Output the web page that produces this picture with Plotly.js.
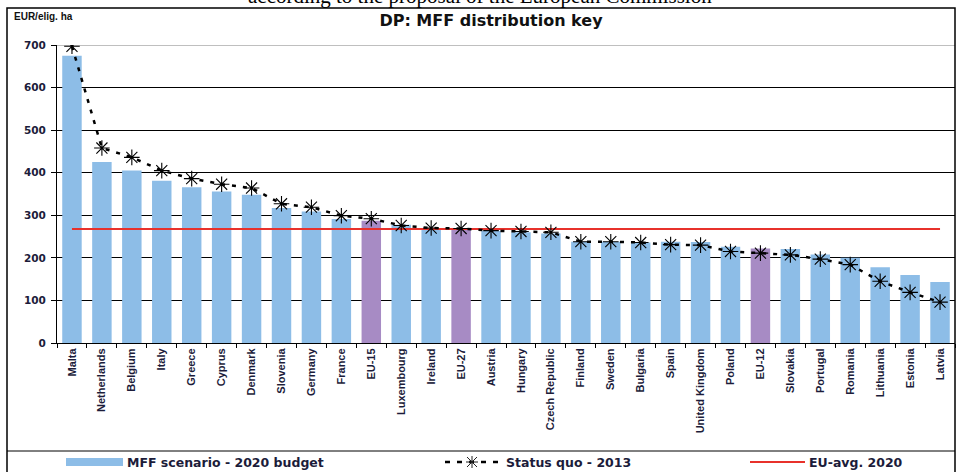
<!DOCTYPE html>
<html>
<head>
<meta charset="utf-8">
<script src="https://cdn.plot.ly/plotly-3.0.1.min.js"></script>
<style>html,body{margin:0;padding:0;background:#fff;}#chart{width:958px;height:472px;}</style>
</head>
<body>
<div id="chart"></div>
<script>
const categories = ["Malta","Netherlands","Belgium","Italy","Greece","Cyprus","Denmark","Slovenia","Germany","France","EU-15","Luxembourg","Ireland","EU-27","Austria","Hungary","Czech Republic","Finland","Sweden","Bulgaria","Spain","United Kingdom","Poland","EU-12","Slovakia","Portugal","Romania","Lithuania","Estonia","Latvia"];
const mffScenario2020 = [675,425,405,381,366,356,348,317,309,291,287,278,270,269,263,260,257,238,238,236,238,237,226,222,221,208,200,178,160,143];
const statusQuo2013 = [697,458,436,405,386,373,364,327,319,299,292,276,270,269,264,262,260,238,238,236,231,230,215,211,207,197,184,145,119,96];
const euAvg2020 = 268;
const aggregates = ["EU-15","EU-27","EU-12"];
const yTicks = [0,100,200,300,400,500,600,700];

const BLUE = "#8DBDE7", PURPLE = "#A78BC4", RED = "#E8312B", TXT = "#1c1c3a";
const W = 958, H = 472, L = 57, R = 3, T = 45, B = 129;
const pw = W - L - R, ph = H - T - B;
const px = x => (x - L) / pw;
const py = y => (H - B - y) / ph;

const traces = [
  {type: "bar", x: categories, y: mffScenario2020, name: "MFF scenario - 2020 budget",
   marker: {color: categories.map(c => aggregates.includes(c) ? PURPLE : BLUE)}, hoverinfo: "x+y"},
  {type: "scatter", mode: "lines", x: categories, y: categories.map(() => euAvg2020), name: "EU-avg. 2020",
   line: {color: RED, width: 2}},
  {type: "scatter", mode: "lines+markers", x: categories, y: statusQuo2013, name: "Status quo - 2013",
   line: {color: "#000", width: 2.5, dash: "4px,7px"},
   marker: {symbol: "asterisk-open", size: 13, color: "#000", line: {color: "#111", width: 1.1}}}
];

const boldD = {family: "DejaVu Sans", weight: "bold", color: TXT};
const layout = {
  width: W, height: H,
  margin: {l: L, r: R, t: T, b: B, pad: 0},
  paper_bgcolor: "#fff", plot_bgcolor: "#fff",
  showlegend: false,
  bargap: 0.35,
  title: {text: "DP: MFF distribution key", xref: "container", yref: "container", x: 491/W, xanchor: "center", y: 1 - 20/H, yanchor: "middle",
          font: {family: "DejaVu Sans", size: 16, weight: "bold", color: "#111"}},
  xaxis: {type: "category", range: [-0.5, categories.length - 0.5], tickangle: -90, ticks: "outside", tickson: "boundaries", ticklen: 4, tickcolor: "#000", tickwidth: 1,
          showline: true, linecolor: "#000", linewidth: 1, showgrid: false,
          tickfont: {family: "Liberation Sans, Arial", size: 11, weight: "bold", color: TXT}, automargin: false},
  yaxis: {range: [0, 700], tickvals: yTicks, ticktext: yTicks.map(String), ticks: "outside", ticklen: 5, tickcolor: "#000",
          showline: true, linecolor: "#000", linewidth: 1, showgrid: true, gridcolor: "#000", gridwidth: 1, zeroline: false,
          ticklabelstandoff: 3,
          tickfont: Object.assign({size: 10.5}, boldD), automargin: false, fixedrange: true},
  shapes: [
    {type: "line", xref: "paper", yref: "y", x0: 0, x1: 1, y0: 700, y1: 700, line: {color: "#aaaaaa", width: 1.5}, layer: "below"},
    {type: "rect", xref: "paper", yref: "paper", x0: px(7), x1: px(955), y0: py(8), y1: py(480), line: {color: "#000", width: 1.5}},
    {type: "line", xref: "paper", yref: "paper", x0: px(7), x1: px(955), y0: py(451), y1: py(451), line: {color: "#000", width: 1}},
    {type: "rect", xref: "paper", yref: "paper", x0: px(66), x1: px(123), y0: py(458), y1: py(466), line: {width: 0}, fillcolor: BLUE},
    {type: "line", xref: "paper", yref: "paper", x0: px(445), x1: px(500), y0: py(462), y1: py(462), line: {color: "#000", width: 2.5, dash: "5px,7px"}},
    {type: "path", xref: "paper", yref: "paper", xsizemode: "pixel", ysizemode: "pixel", xanchor: px(472), yanchor: py(462),
     path: "M-6,0 L6,0 M0,-6 L0,6 M-5,-5 L5,5 M-5,5 L5,-5", line: {color: "#222", width: 1}},
    {type: "line", xref: "paper", yref: "paper", x0: px(750), x1: px(805), y0: py(462), y1: py(462), line: {color: RED, width: 2}}
  ],
  annotations: [
    {text: "according to the proposal of the European Commission", xref: "paper", yref: "paper", x: px(480), y: py(-4), xanchor: "center", yanchor: "middle",
     showarrow: false, font: {family: "Liberation Serif, Times New Roman", size: 21, color: "#000"}},
    {text: "EUR/elig. ha", xref: "paper", yref: "paper", x: px(12), y: py(16), xanchor: "left", yanchor: "middle", showarrow: false,
     font: {family: "Liberation Sans, Arial", size: 10, weight: "bold", color: "#111"}},
    {text: "MFF scenario - 2020 budget", xref: "paper", yref: "paper", x: px(125), y: py(462), xanchor: "left", yanchor: "middle", showarrow: false,
     font: Object.assign({size: 12.5}, boldD)},
    {text: "Status quo - 2013", xref: "paper", yref: "paper", x: px(504), y: py(462), xanchor: "left", yanchor: "middle", showarrow: false,
     font: Object.assign({size: 12.5}, boldD)},
    {text: "EU-avg. 2020", xref: "paper", yref: "paper", x: px(807), y: py(462), xanchor: "left", yanchor: "middle", showarrow: false,
     font: Object.assign({size: 12.5}, boldD)}
  ]
};

Plotly.newPlot("chart", traces, layout, {displayModeBar: false, staticPlot: true});
</script>
</body>
</html>
